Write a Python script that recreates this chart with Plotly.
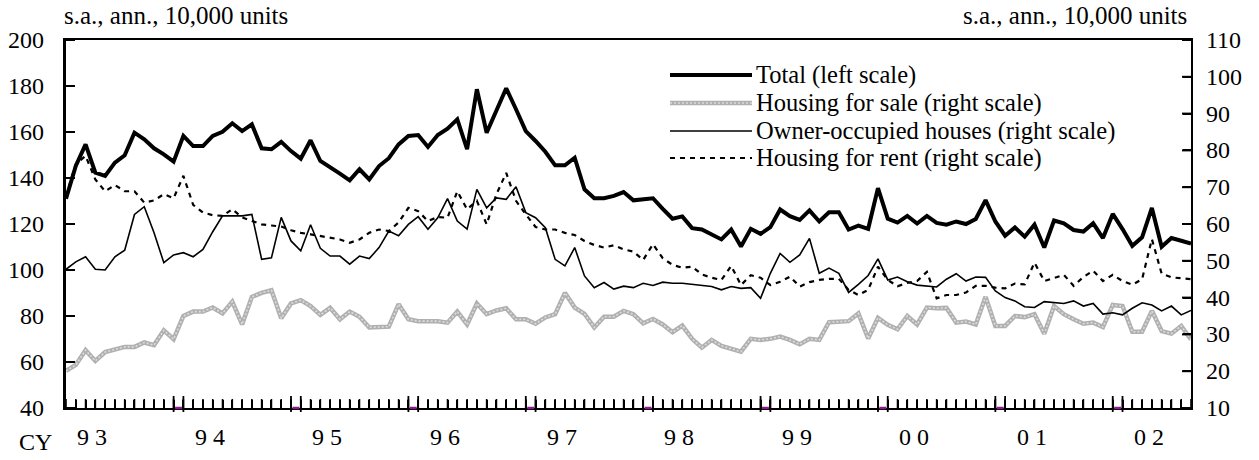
import plotly.graph_objects as go

# ---------------- data (monthly, Jan 1993 - Aug 2002) ----------------
START_YEAR = 1993
N_MONTHS = 116
YEAR_LABELS = ["9 3", "9 4", "9 5", "9 6", "9 7", "9 8", "9 9", "0 0", "0 1", "0 2"]
LEFT_TICKS = [40, 60, 80, 100, 120, 140, 160, 180, 200]
RIGHT_TICKS = [10, 20, 30, 40, 50, 60, 70, 80, 90, 100, 110]

total = [
    131.0, 145.2, 154.6, 142.3, 140.9, 146.7, 149.9, 159.7, 156.8, 152.9, 150.3, 147.1,
    158.3, 153.9, 153.9, 158.3, 160.1, 163.8, 160.4, 163.3, 152.9, 152.5, 155.7, 151.7,
    148.4, 156.4, 147.4, 144.8, 141.9, 139.0, 143.8, 139.4, 145.2, 148.6, 154.6, 158.3,
    158.7, 153.5, 158.7, 161.4, 165.5, 152.5, 178.6, 159.7, 169.9, 179.0, 169.9, 160.4,
    156.1, 151.4, 145.5, 145.5, 148.8, 135.1, 131.2, 131.2, 132.2, 133.9, 130.3, 130.8,
    131.2, 126.6, 122.3, 123.3, 118.2, 117.6, 115.3, 113.3, 117.6, 110.2, 117.9, 115.7,
    118.6, 126.3, 123.4, 121.8, 125.9, 121.1, 125.1, 125.1, 117.6, 119.3, 117.9, 135.6,
    122.3, 120.6, 123.5, 120.2, 123.5, 120.5, 119.7, 121.1, 120.0, 122.2, 130.4, 121.1,
    114.9, 118.5, 114.5, 119.7, 109.8, 121.5, 120.3, 117.4, 116.7, 120.3, 113.9, 124.4,
    117.8, 110.5, 114.2, 127.0, 110.1, 113.9, 112.7, 111.5,
]

for_sale = [
    20.1, 21.7, 25.7, 22.8, 25.2, 25.9, 26.6, 26.6, 27.8, 27.1, 31.1, 28.7,
    35.0, 36.2, 36.2, 37.3, 35.7, 38.9, 32.7, 40.2, 41.3, 42.0, 34.4, 38.4,
    39.3, 37.7, 35.3, 37.2, 34.1, 36.2, 34.8, 31.9, 32.1, 32.1, 38.2, 34.1,
    33.6, 33.6, 33.6, 33.2, 36.2, 32.7, 38.4, 35.5, 36.5, 37.1, 34.1, 34.1,
    32.9, 34.6, 35.5, 41.3, 37.3, 35.6, 31.9, 34.8, 34.8, 36.4, 35.5, 33.0,
    34.2, 32.7, 30.6, 32.4, 28.8, 26.4, 28.5, 26.9, 26.2, 25.3, 28.8, 28.5,
    28.8, 29.4, 28.5, 27.3, 28.8, 28.5, 33.3, 33.5, 33.6, 35.7, 28.9, 34.5,
    32.6, 31.4, 35.0, 32.7, 37.3, 37.1, 37.2, 33.2, 33.5, 32.7, 40.2, 32.3,
    32.3, 35.0, 34.7, 35.5, 30.2, 37.7, 35.5, 34.1, 32.9, 33.2, 32.0, 38.0,
    37.7, 30.7, 30.7, 36.4, 30.9, 30.2, 32.3, 28.6,
]

owner_occupied = [
    47.7, 49.7, 51.1, 47.7, 47.5, 51.1, 52.9, 62.6, 64.7, 57.6, 49.5, 51.6,
    52.2, 51.1, 53.1, 57.9, 62.2, 62.2, 62.2, 62.6, 50.4, 50.8, 61.8, 55.4,
    52.7, 59.8, 53.4, 51.3, 51.3, 49.1, 51.3, 50.6, 53.6, 58.1, 56.8, 59.9,
    62.0, 58.6, 61.7, 66.9, 60.8, 58.6, 69.4, 64.4, 67.1, 66.7, 70.1, 63.1,
    61.7, 59.0, 50.4, 48.6, 53.6, 45.9, 42.7, 44.1, 42.3, 43.1, 42.7, 43.9,
    43.3, 44.2, 43.9, 43.9, 43.6, 43.4, 43.0, 42.1, 43.0, 42.5, 42.7, 39.8,
    46.6, 52.0, 49.6, 51.6, 56.1, 46.6, 48.0, 46.6, 41.4, 43.6, 46.0, 50.5,
    44.8, 45.6, 44.3, 43.4, 43.1, 42.9, 45.0, 46.5, 44.5, 45.6, 45.5, 41.8,
    40.0, 39.1, 37.5, 37.3, 38.9, 38.6, 38.4, 39.1, 37.7, 38.4, 35.5, 35.9,
    35.3, 37.1, 38.6, 38.0, 36.4, 37.7, 35.3, 36.5,
]

for_rent = [
    67.5, 76.3, 78.5, 72.1, 68.9, 70.6, 68.9, 68.9, 65.8, 66.4, 68.1, 67.0,
    73.1, 65.2, 63.1, 62.4, 62.2, 64.0, 61.8, 60.8, 59.9, 59.6, 59.3, 58.3,
    57.6, 57.2, 56.8, 56.4, 55.8, 54.9, 55.8, 57.6, 58.5, 58.1, 60.4, 64.4,
    63.5, 60.8, 61.9, 61.7, 68.9, 64.0, 66.3, 59.9, 68.1, 73.9, 66.3, 62.6,
    59.2, 58.5, 58.5, 57.6, 57.0, 55.4, 54.3, 53.6, 54.2, 53.1, 52.5, 50.2,
    54.5, 50.7, 48.9, 48.1, 48.4, 46.3, 45.4, 44.8, 48.6, 43.4, 46.1, 45.4,
    43.4, 44.3, 45.7, 43.0, 44.2, 44.8, 45.1, 45.1, 42.1, 40.7, 42.1, 48.4,
    44.8, 43.1, 44.0, 44.5, 47.0, 39.8, 40.7, 40.7, 41.4, 43.2, 43.2, 42.7,
    42.5, 43.8, 43.6, 49.5, 44.5, 45.3, 46.2, 43.2, 45.6, 47.3, 44.5, 46.2,
    44.5, 43.5, 45.0, 55.9, 46.5, 45.5, 45.3, 45.0,
]

SERIES_NAMES = [
    "Total (left scale)",
    "Housing for sale (right scale)",
    "Owner-occupied houses (right scale)",
    "Housing for rent (right scale)",
]
UNIT_TEXT = "s.a., ann., 10,000 units"
AXIS_PREFIX = "CY"

# ---------------- figure ----------------
FONT = "Liberation Serif"
x = list(range(N_MONTHS))
X_RANGE = [0, N_MONTHS - 1]
Y_RANGE = [40, 200]
Y2_RANGE = [10, 110]

fig = go.Figure()
fig.add_trace(go.Scatter(x=x, y=total, mode="lines", name=SERIES_NAMES[0],
                         line=dict(color="black", width=4), yaxis="y"))
fig.add_trace(go.Scatter(x=x, y=for_sale, mode="lines", name=SERIES_NAMES[1],
                         line=dict(color="#b0b0b0", width=4.5), yaxis="y2"))
fig.add_trace(go.Scatter(x=x, y=for_sale, mode="lines", name=SERIES_NAMES[1] + " texture",
                         line=dict(color="#dcdcdc", width=1.6, dash="2px,2px"), yaxis="y2"))
fig.add_trace(go.Scatter(x=x, y=owner_occupied, mode="lines", name=SERIES_NAMES[2],
                         line=dict(color="black", width=1.6), yaxis="y2"))
fig.add_trace(go.Scatter(x=x, y=for_rent, mode="lines", name=SERIES_NAMES[3],
                         line=dict(color="black", width=2.2, dash="5px,5px"), yaxis="y2"))

fig.update_layout(
    width=1259, height=460,
    margin=dict(l=66, r=68, t=40, b=52),
    paper_bgcolor="white", plot_bgcolor="rgba(0,0,0,0)",
    showlegend=False,
    font=dict(family=FONT, size=24, color="black"),
    xaxis=dict(
        range=X_RANGE, showgrid=False, zeroline=False,
        showline=True, linecolor="black", linewidth=2, mirror=True,
        tickmode="array", tickvals=x, showticklabels=False,
        ticks="inside", ticklen=8, tickwidth=1.5, tickcolor="black",
    ),
    yaxis=dict(
        range=Y_RANGE, tickmode="array", tickvals=LEFT_TICKS,
        showgrid=False, zeroline=False, showticklabels=False,
        showline=True, linecolor="black", linewidth=2.5,
        ticks="inside", ticklen=8, tickwidth=2, tickcolor="black",
    ),
    yaxis2=dict(
        range=Y2_RANGE, tickmode="array", tickvals=RIGHT_TICKS,
        overlaying="y", side="right",
        showgrid=False, zeroline=False, showticklabels=False,
        showline=True, linecolor="black", linewidth=2,
        ticks="inside", ticklen=8, tickwidth=2, tickcolor="black",
    ),
)

PLOT_L, PLOT_W, PLOT_T, PLOT_H = 66, 1125, 40, 368
def px(xp):
    return (xp - PLOT_L) / PLOT_W
def py(yp):
    return 1 - (yp - PLOT_T) / PLOT_H
def frac(v, rng):
    return (v - rng[0]) / (rng[1] - rng[0])

shapes = []
annotations = []

# monthly tick marks on the time axis (paper-referenced so they are never clipped)
for xi in x:
    fx = frac(xi, X_RANGE)
    shapes.append(dict(type="line", xref="paper", yref="paper", x0=fx, x1=fx,
                       y0=0, y1=9 / PLOT_H,
                       line=dict(color="black", width=1.6), layer="above"))

# y tick marks + labels
for v in LEFT_TICKS:
    fy = frac(v, Y_RANGE)
    shapes.append(dict(type="line", xref="paper", yref="paper", x0=0, x1=9 / PLOT_W,
                       y0=fy, y1=fy, line=dict(color="black", width=2), layer="above"))
    annotations.append(dict(text=str(v), xref="paper", yref="y", x=px(46), y=v,
                            xanchor="right", yanchor="middle", showarrow=False,
                            font=dict(family=FONT, size=24, color="black")))
for v in RIGHT_TICKS:
    fy = frac(v, Y2_RANGE)
    shapes.append(dict(type="line", xref="paper", yref="paper", x0=1 - 9 / PLOT_W, x1=1,
                       y0=fy, y1=fy, line=dict(color="black", width=2), layer="above"))
    annotations.append(dict(text=str(v), xref="paper", yref="y2", x=px(1204), y=v,
                            xanchor="left", yanchor="middle", showarrow=False,
                            font=dict(family=FONT, size=24, color="black")))

# year labels and year boundary marks (Dec / Jan double ticks with purple segment)
for k, lab in enumerate(YEAR_LABELS):
    annotations.append(dict(text=lab, xref="x", yref="paper", x=12 * k + 2.7, y=py(437),
                            xanchor="center", yanchor="middle", showarrow=False,
                            font=dict(family=FONT, size=24, color="black")))
    if k == 0:
        continue
    dec, jan = 12 * k - 1, 12 * k
    for xi in (dec, jan):
        fx = frac(xi, X_RANGE)
        shapes.append(dict(type="line", xref="paper", yref="paper", x0=fx, x1=fx,
                           y0=-4 / PLOT_H, y1=12 / PLOT_H, line=dict(color="black", width=1.8),
                           layer="above"))
    shapes.append(dict(type="line", xref="paper", yref="paper",
                       x0=frac(dec + 0.15, X_RANGE), x1=frac(jan - 0.15, X_RANGE),
                       y0=0, y1=0, line=dict(color="#8b1a8b", width=2.5), layer="above"))

annotations.append(dict(text=AXIS_PREFIX, xref="paper", yref="paper", x=px(35), y=py(442),
                        xanchor="center", yanchor="middle", showarrow=False,
                        font=dict(family=FONT, size=24, color="black")))

# legend (drawn manually to match the long sample lines)
leg_rows = [75, 103, 131, 158]
leg_x0, leg_x1, leg_tx = 670, 752, 754
leg_styles = [
    [dict(color="black", width=4)],
    [dict(color="#b0b0b0", width=4.5), dict(color="#dcdcdc", width=1.6, dash="2px,2px")],
    [dict(color="black", width=1.6)],
    [dict(color="black", width=2.2, dash="5px,5px")],
]
for name, row, styles in zip(SERIES_NAMES, leg_rows, leg_styles):
    for st in styles:
        shapes.append(dict(type="line", xref="paper", yref="paper",
                           x0=px(leg_x0), x1=px(leg_x1), y0=py(row), y1=py(row),
                           line=st))
    annotations.append(dict(text=name, xref="paper", yref="paper", x=px(leg_tx), y=py(row),
                            xanchor="left", yanchor="middle", showarrow=False,
                            font=dict(family=FONT, size=24.5, color="black")))

# unit captions
annotations.append(dict(text=UNIT_TEXT, xref="paper", yref="paper", x=px(62), y=py(16),
                        xanchor="left", yanchor="middle", showarrow=False,
                        font=dict(family=FONT, size=25, color="black")))
annotations.append(dict(text=UNIT_TEXT, xref="paper", yref="paper", x=px(1189), y=py(16),
                        xanchor="right", yanchor="middle", showarrow=False,
                        font=dict(family=FONT, size=25, color="black")))

fig.update_layout(shapes=shapes, annotations=annotations)
fig.write_html("out.html", config={"displayModeBar": False},
               post_script="document.body.style.margin='0px';")
